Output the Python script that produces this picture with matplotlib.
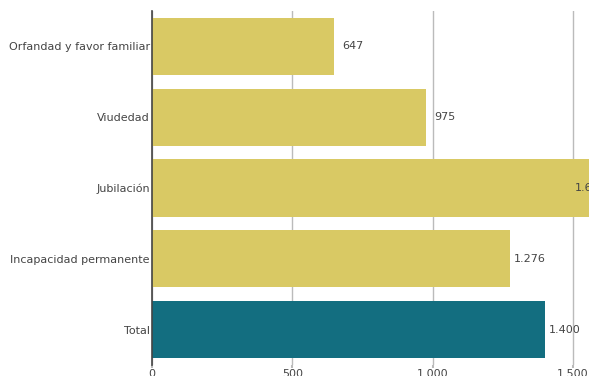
import matplotlib.pyplot as plt

# datos (de abajo hacia arriba)
categorias = ['Total', 'Incapacidad permanente', 'Jubilación', 'Viudedad', 'Orfandad y favor familiar']
valores = [1400, 1276, 1630, 975, 647]
colores = ['#136E80', '#D9C964', '#D9C964', '#D9C964', '#D9C964']
ticks = [0, 500, 1000, 1500]
tick_labels = ['0', '500', '1.000', '1.500']


def fmt(v):
    return f'{v:,}'.replace(',', '.')


fig = plt.figure(figsize=(5.89, 3.76), dpi=100)
# el área de trazado se sale del lienzo por la derecha (como en la captura)
ax = fig.add_axes([152 / 589, 11 / 376, 505 / 589, 354 / 376])
ax.set_xlim(0, 1800)
ax.set_ylim(-0.5, 4.5)

ax.barh(range(len(categorias)), valores, height=0.81, color=colores, zorder=2)

for i, v in enumerate(valores):
    if categorias[i] == 'Jubilación':
        ax.annotate(fmt(v), (v, i), xytext=(-2, 0), textcoords='offset points',
                    ha='right', va='center', fontsize=8, color='#444444', zorder=3)
    else:
        ax.annotate(fmt(v), (v, i), xytext=(14, 0), textcoords='offset points',
                    ha='center', va='center', fontsize=8, color='#444444', zorder=3)

ax.set_yticks(range(len(categorias)))
ax.set_yticklabels(categorias, fontsize=8, color='#444444')
ax.tick_params(axis='y', length=0, pad=1.5)
ax.set_xticks(ticks)
ax.set_xticklabels(tick_labels, fontsize=8, color='#444444')
ax.tick_params(axis='x', length=2.5, color='#bbbbbb', width=1.5, pad=0.5)
ax.xaxis.grid(True, color='#bbbbbb', linewidth=1, zorder=1)

for s in ['top', 'right', 'bottom']:
    ax.spines[s].set_visible(False)
ax.spines['left'].set_color('#444444')
ax.spines['left'].set_linewidth(1.2)

fig.savefig('out.png', dpi=100)
